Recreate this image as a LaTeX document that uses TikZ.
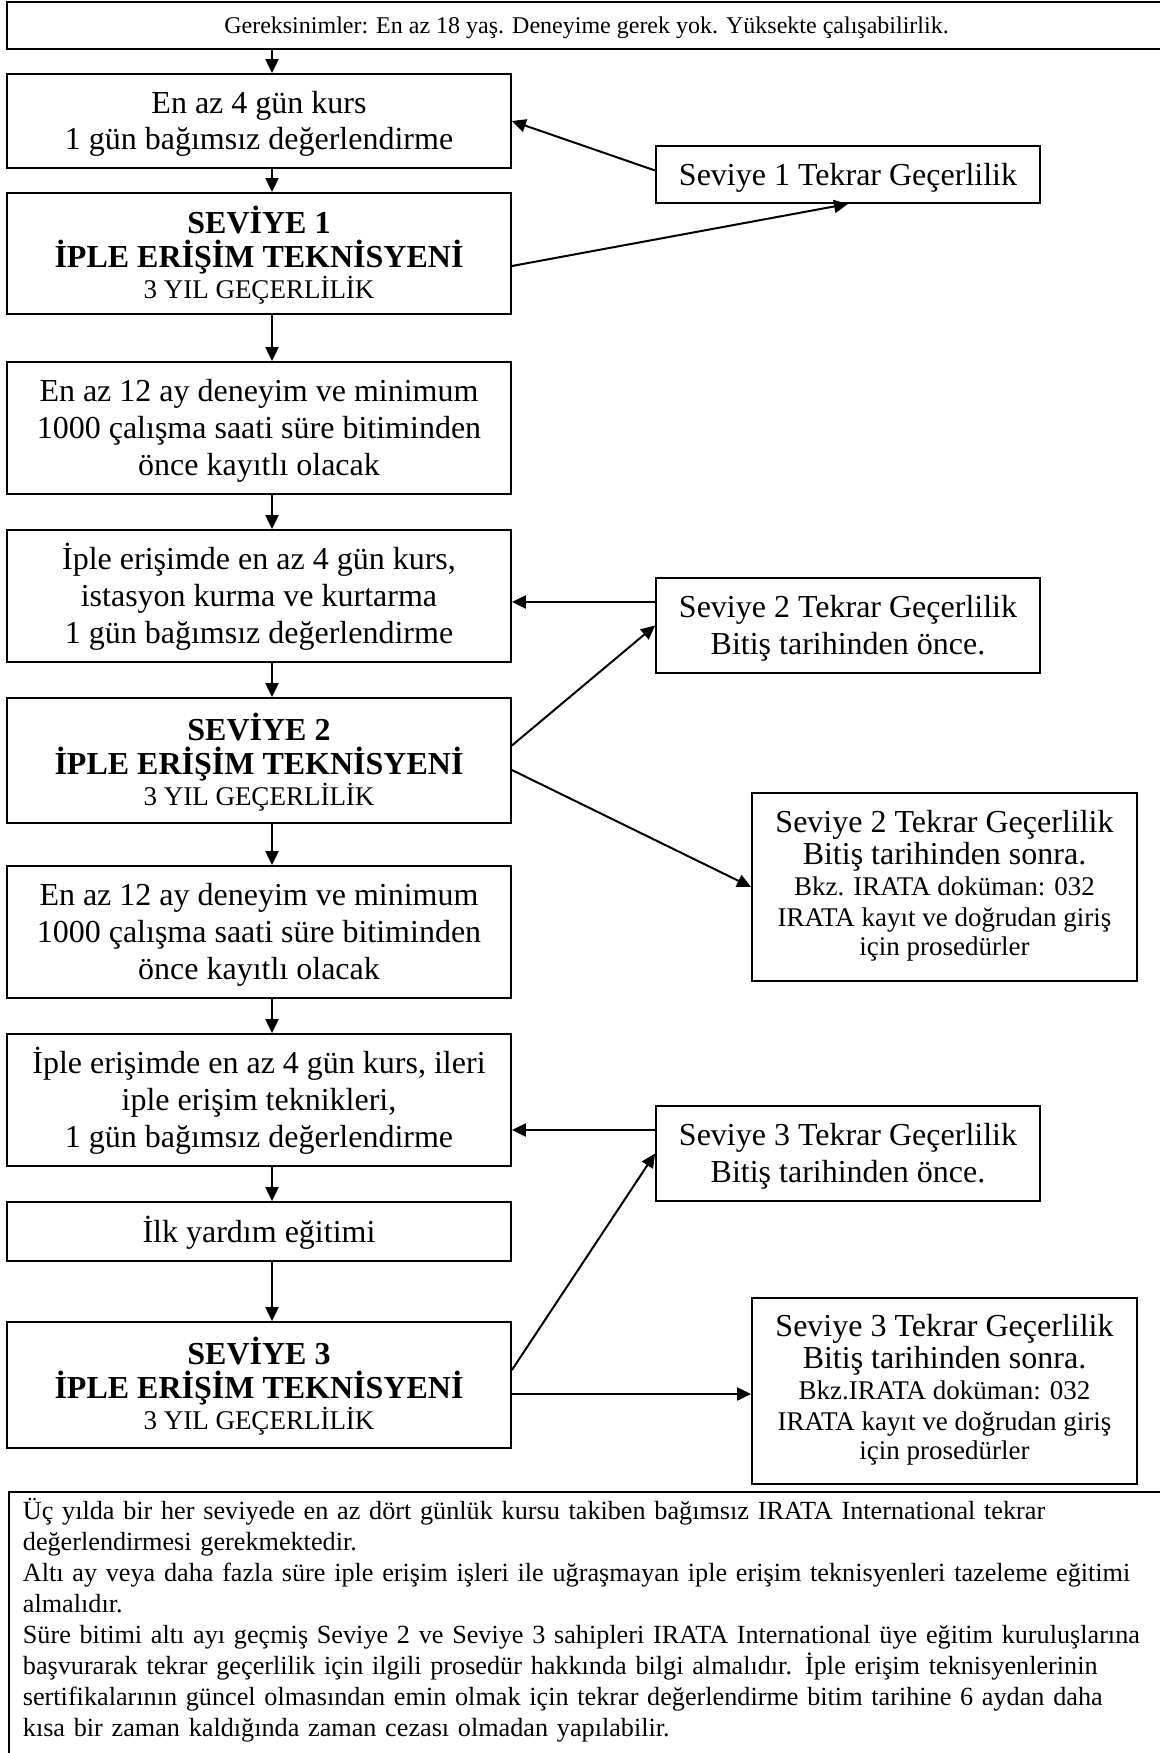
\documentclass[tikz,border=0pt]{standalone}
\usepackage{fontspec}
\setmainfont{Liberation Serif}
\usetikzlibrary{arrows.meta}
\newcommand{\lbl}{\fontsize{27}{30}\selectfont}
\newcommand{\topstr}{\rule{0pt}{30pt}}
\newcommand{\botstr}[1][9pt]{\rule[-#1]{0pt}{#1}}
\begin{document}
\begin{tikzpicture}[x=1pt,y=-1pt]
\tikzset{stepbox/.style={draw, line width=1.8pt, inner sep=0pt, align=center, minimum width=504pt, font=\fontsize{32}{36.7}\selectfont},
         sidebox/.style={stepbox, minimum width=384pt},
         flow/.style={line width=2pt, -{Triangle[length=14pt,width=13pt]}}}
    \useasboundingbox[fill=white] (0,0) rectangle (1159,1753);

    \node[stepbox, minimum width=1159pt, minimum height=47pt, text height=21pt, text depth=4pt, font=\fontsize{24}{28}\selectfont] at (586.5,25.5) (req) {Gereksinimler: En az 18 yaş. Deneyime gerek yok. Yüksekte çalışabilirlik.};
    \node[stepbox, minimum height=94pt] at (259,121) (kurs1) {\topstr En az 4 gün kurs\\ 1 gün bağımsız değerlendirme\botstr};
    \node[stepbox, minimum height=121pt] at (259,253.5) (sev1) {\topstr{\bfseries SEVİYE 1}\\[-2.7pt] {\bfseries İPLE ERİŞİM TEKNİSYENİ}\\[-5.7pt] {\lbl 3 YIL GEÇERLİLİK}};
    \node[stepbox, minimum height=132pt] at (259,428) (den1) {\topstr En az 12 ay deneyim ve minimum\\ 1000 çalışma saati süre bitiminden\\ önce kayıtlı olacak\botstr};
    \node[stepbox, minimum height=132pt] at (259,596) (kurs2) {\topstr İple erişimde en az 4 gün kurs,\\ istasyon kurma ve kurtarma\\ 1 gün bağımsız değerlendirme\botstr};
    \node[stepbox, minimum height=125pt] at (259,760.5) (sev2) {\topstr{\bfseries SEVİYE 2}\\[-2.7pt] {\bfseries İPLE ERİŞİM TEKNİSYENİ}\\[-5.7pt] {\lbl 3 YIL GEÇERLİLİK}};
    \node[stepbox, minimum height=132pt] at (259,932) (den2) {\topstr En az 12 ay deneyim ve minimum\\ 1000 çalışma saati süre bitiminden\\ önce kayıtlı olacak\botstr};
    \node[stepbox, minimum height=132pt] at (259,1100) (kurs3) {\topstr İple erişimde en az 4 gün kurs, ileri\\ iple erişim teknikleri,\\ 1 gün bağımsız değerlendirme\botstr};
    \node[stepbox, minimum height=59pt] at (259,1231.5) (ilk) {\topstr İlk yardım eğitimi\botstr};
    \node[stepbox, minimum height=126pt] at (259,1385) (sev3) {\topstr{\bfseries SEVİYE 3}\\[-2.7pt] {\bfseries İPLE ERİŞİM TEKNİSYENİ}\\[-5.7pt] {\lbl 3 YIL GEÇERLİLİK}};

    \node[sidebox, minimum height=57pt] at (848,174.5) (tek1) {\topstr Seviye 1 Tekrar Geçerlilik\botstr};
    \node[sidebox, minimum height=95pt] at (848,625.5) (tek2a) {\topstr Seviye 2 Tekrar Geçerlilik\\ Bitiş tarihinden önce.\botstr};
    \node[sidebox, minimum width=385pt, minimum height=188pt] at (944.5,887) (tek2b) {\topstr Seviye 2 Tekrar Geçerlilik\\[-4.7pt] Bitiş tarihinden sonra.\\[-5.7pt] {\lbl Bkz. IRATA doküman: 032}\\[-5.7pt] {\lbl IRATA kayıt ve doğrudan giriş}\\[-7.7pt] {\lbl için prosedürler}\botstr[16pt]};
    \node[sidebox, minimum height=95pt] at (848,1153.5) (tek3a) {\topstr Seviye 3 Tekrar Geçerlilik\\ Bitiş tarihinden önce.\botstr};
    \node[sidebox, minimum width=385pt, minimum height=186pt] at (944.5,1391) (tek3b) {\topstr Seviye 3 Tekrar Geçerlilik\\[-4.7pt] Bitiş tarihinden sonra.\\[-5.7pt] {\lbl Bkz.IRATA doküman: 032}\\[-5.7pt] {\lbl IRATA kayıt ve doğrudan giriş}\\[-7.7pt] {\lbl için prosedürler}\botstr[16pt]};

    \node[draw, line width=1.8pt, anchor=north west, text width=1170pt, inner xsep=14pt, inner ysep=5pt, align=left, font=\fontsize{26.2}{31}\selectfont] at (8,1491) (note) {\hyphenpenalty=10000\rule{0pt}{23pt}Üç yılda bir her seviyede en az dört günlük kursu takiben bağımsız IRATA International tekrar\\ değerlendirmesi gerekmektedir.\\ Altı ay veya daha fazla süre iple erişim işleri ile uğraşmayan iple erişim teknisyenleri tazeleme eğitimi\\ almalıdır.\\ Süre bitimi altı ayı geçmiş Seviye 2 ve Seviye 3 sahipleri IRATA International üye eğitim kuruluşlarına\\ başvurarak tekrar geçerlilik için ilgili prosedür hakkında bilgi almalıdır. İple erişim teknisyenlerinin\\ sertifikalarının güncel olmasından emin olmak için tekrar değerlendirme bitim tarihine 6 aydan daha\\ kısa bir zaman kaldığında zaman cezası olmadan yapılabilir.\rule[-30pt]{0pt}{30pt}};

    \coordinate (spine) at ([xshift=13pt]kurs1.north);
    \path[flow] (req.south -| spine) edge (spine);
    \path[flow] ([xshift=13pt]kurs1.south) edge ([xshift=13pt]sev1.north);
    \path[flow] ([xshift=13pt]sev1.south) edge ([xshift=13pt]den1.north);
    \path[flow] ([xshift=13pt]den1.south) edge ([xshift=13pt]kurs2.north);
    \path[flow] ([xshift=13pt]kurs2.south) edge ([xshift=13pt]sev2.north);
    \path[flow] ([xshift=13pt]sev2.south) edge ([xshift=13pt]den2.north);
    \path[flow] ([xshift=13pt]den2.south) edge ([xshift=13pt]kurs3.north);
    \path[flow] ([xshift=13pt]kurs3.south) edge ([xshift=13pt]ilk.north);
    \path[flow] ([xshift=13pt]ilk.south) edge ([xshift=13pt]sev3.north);

    \path[flow] ([yshift=4pt]tek1.west) edge (kurs1.east);
    \path[flow] ([yshift=-12.5pt]sev1.east) edge (tek1.south);
    \path[flow] ([yshift=23.5pt]tek2a.west) edge ([yshift=-6pt]kurs2.east);
    \path[flow] ([yshift=15pt]sev2.east) edge (tek2a.west);
    \path[flow] ([yshift=-9.5pt]sev2.east) edge (tek2b.west);
    \path[flow] ([yshift=23.5pt]tek3a.west) edge ([yshift=-30pt]kurs3.east);
    \path[flow] ([yshift=15pt]sev3.east) edge (tek3a.west);
    \path[flow] ([yshift=-9pt]sev3.east) edge ([yshift=-3pt]tek3b.west);

  \end{tikzpicture}
\end{document}
